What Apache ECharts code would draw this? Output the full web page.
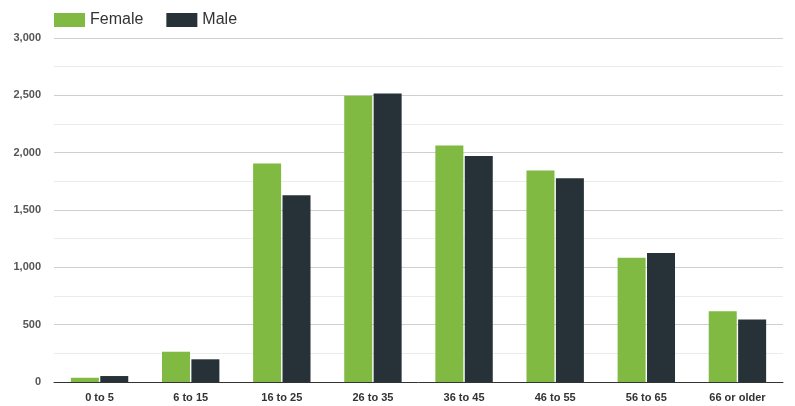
<!DOCTYPE html>
<html>
<head>
<meta charset="utf-8">
<script src="https://cdn.jsdelivr.net/npm/echarts@6/dist/echarts.min.js"></script>
<style>html,body{margin:0;padding:0;background:#fff;}#c{width:795px;height:406px;}</style>
</head>
<body>
<div id="c"></div>
<script>
var categories = ['0 to 5', '6 to 15', '16 to 25', '26 to 35', '36 to 45', '46 to 55', '56 to 65', '66 or older'];
var female = [37, 264, 1905, 2497, 2062, 1844, 1083, 616];
var male = [52, 198, 1629, 2515, 1971, 1777, 1126, 546];
var yTicks = [0, 500, 1000, 1500, 2000, 2500, 3000];

var chart = echarts.init(document.getElementById('c'), null, {renderer: 'canvas'});
chart.setOption({
  animation: false,
  legend: {
    left: 49, top: 7,
    itemWidth: 31, itemHeight: 14, itemGap: 23,
    icon: 'rect',
    textStyle: {fontFamily: 'Liberation Sans, Arial', fontSize: 16, color: '#333'},
    data: ['Female', 'Male']
  },
  grid: {left: 54, right: 12, top: 38, bottom: 24, containLabel: false},
  xAxis: {
    type: 'category',
    data: categories,
    axisLine: {lineStyle: {color: '#333', width: 1}},
    axisTick: {show: false},
    axisLabel: {fontFamily: 'Liberation Sans, Arial', fontWeight: 'bold', fontSize: 11, color: '#333', margin: 10}
  },
  yAxis: {
    type: 'value',
    min: yTicks[0], max: yTicks[yTicks.length - 1], interval: 500,
    axisLine: {show: false},
    axisTick: {show: false},
    axisLabel: {fontFamily: 'Liberation Sans, Arial', fontWeight: 'bold', fontSize: 11, color: '#555', margin: 13,
      formatter: function (v) { return v.toLocaleString('en-US'); }},
    splitLine: {lineStyle: {color: '#cfcfcf', width: 1}},
    minorTick: {show: false, splitNumber: 2},
    minorSplitLine: {show: true, lineStyle: {color: '#ebebeb', width: 1}}
  },
  series: [
    {name: 'Female', type: 'bar', data: female, barWidth: 28, barGap: '5%',
      itemStyle: {color: '#80ba42'}},
    {name: 'Male', type: 'bar', data: male, barWidth: 28, barGap: '5%',
      itemStyle: {color: '#263238'}}
  ]
});
</script>
</body>
</html>
